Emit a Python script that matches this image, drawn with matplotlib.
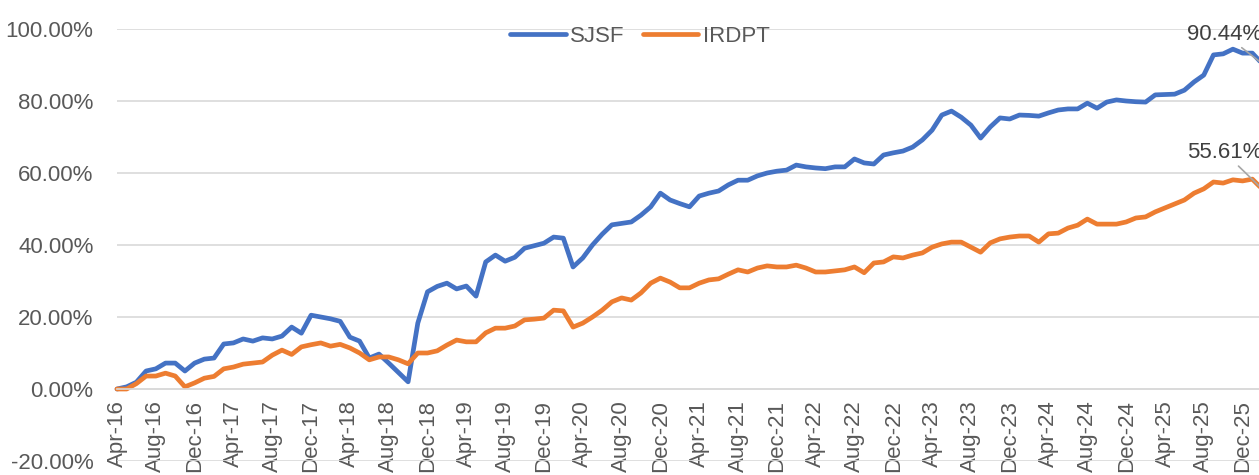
import matplotlib
matplotlib.use("Agg")
import matplotlib.pyplot as plt
from matplotlib.ticker import FuncFormatter

plt.rcParams['font.family'] = ['Liberation Sans', 'DejaVu Sans']

# monthly cumulative return (%), Apr-16 .. Feb-26
months = ["Jan", "Feb", "Mar", "Apr", "May", "Jun",
          "Jul", "Aug", "Sep", "Oct", "Nov", "Dec"]
labels = [f"{months[(3 + i) % 12]}-{16 + (3 + i) // 12}" for i in range(119)]

sjsf = [0, 0.6, 1.9, 5, 5.6, 7.2, 7.2, 5, 7.2, 8.3,
        8.6, 12.5, 12.8, 13.9, 13.3, 14.2, 13.9, 14.7, 17.2, 15.5,
        20.5, 20, 19.5, 18.8, 14.4, 13.3, 8.6, 9.7, 7.2, 4.6,
        2, 18.3, 27, 28.5, 29.4, 27.8, 28.6, 25.8, 35.3, 37.2,
        35.5, 36.6, 39.1, 39.8, 40.5, 42.2, 41.9, 33.9, 36.4, 40,
        43, 45.6, 46, 46.4, 48.3, 50.6, 54.4, 52.5, 51.5, 50.6,
        53.6, 54.4, 55, 56.7, 58, 58, 59.2, 60, 60.5, 60.8,
        62.2, 61.7, 61.4, 61.2, 61.7, 61.7, 63.9, 62.8, 62.5, 65,
        65.6, 66.1, 67.2, 69.2, 71.9, 76.1, 77.2, 75.5, 73.3, 69.7,
        72.8, 75.3, 75, 76.1, 76, 75.8, 76.7, 77.5, 77.8, 77.8,
        79.4, 78, 79.7, 80.3, 80, 79.8, 79.7, 81.7, 81.8, 81.9,
        83, 85.3, 87.2, 92.8, 93.1, 94.4, 93.3, 93.3, 90.44]

irdpt = [0, 0, 1.5, 3.6, 3.6, 4.4, 3.6, 0.6, 1.7, 3,
         3.5, 5.6, 6.1, 6.9, 7.2, 7.5, 9.4, 10.8, 9.6, 11.7,
         12.3, 12.8, 11.9, 12.4, 11.4, 10, 8.1, 8.9, 8.9, 8.1,
         7, 10, 10, 10.6, 12.2, 13.6, 13.1, 13.1, 15.6, 16.9,
         16.9, 17.5, 19.2, 19.4, 19.7, 21.9, 21.7, 17.2, 18.3, 20,
         21.9, 24.2, 25.3, 24.7, 26.7, 29.4, 30.8, 29.7, 28.1, 28.1,
         29.4, 30.3, 30.6, 31.9, 33.1, 32.5, 33.6, 34.2, 33.9, 33.9,
         34.4, 33.6, 32.5, 32.5, 32.8, 33.1, 33.9, 32.3, 35, 35.3,
         36.7, 36.4, 37.2, 37.8, 39.4, 40.3, 40.8, 40.8, 39.4, 38,
         40.6, 41.7, 42.2, 42.5, 42.5, 40.8, 43.1, 43.3, 44.7, 45.5,
         47.2, 45.8, 45.8, 45.8, 46.4, 47.5, 47.8, 49.2, 50.3, 51.4,
         52.5, 54.4, 55.6, 57.5, 57.2, 58.1, 57.8, 58.3, 55.61]

W, H = 1259, 475
fig = plt.figure(figsize=(W / 100, H / 100), dpi=100)
left, right, top, bottom = 117, 1262, 29, 461
ax = fig.add_axes([left / W, (H - bottom) / H, (right - left) / W, (bottom - top) / H])

x = list(range(len(sjsf)))
ax.plot(x, sjsf, color="#4472C4", lw=3.4, solid_joinstyle="round", solid_capstyle="round", label="SJSF", clip_on=False)
ax.plot(x, irdpt, color="#ED7D31", lw=3.4, solid_joinstyle="round", solid_capstyle="round", label="IRDPT", clip_on=False)

ax.set_xlim(0, len(sjsf) - 1)
ax.set_ylim(-20, 100)
ax.set_yticks(range(-20, 101, 20))
ax.yaxis.set_major_formatter(FuncFormatter(lambda v, p: f"{v:.2f}%"))

ax.grid(axis="y", color="#D9D9D9", lw=1.2)
ax.set_axisbelow(True)
for s in ["top", "right", "left"]:
    ax.spines[s].set_visible(False)
ax.spines["bottom"].set_position(("data", 0))
ax.spines["bottom"].set_color("#D9D9D9")
ax.spines["bottom"].set_linewidth(1.2)
ax.tick_params(axis="both", length=0, labelsize=16, labelcolor="#595959")
ax.tick_params(axis="y", pad=17)
ax.tick_params(axis="x", pad=8, labelrotation=90)

ax.set_xticks(x[::4])
ax.set_xticklabels(labels[::4])
for t in ax.get_xticklabels():
    t.set_rotation(90)
    t.set_va("top")
    t.set_ha("center")

# end-value labels
for series, dy in [(sjsf, 29), (irdpt, 36)]:
    ax.annotate(f"{series[-1]:.2f}%", xy=(x[-1], series[-1]), xytext=(-75, dy),
                textcoords="offset pixels", ha="left", va="center",
                fontsize=16, color="#404040", annotation_clip=False,
                arrowprops=dict(arrowstyle="-", color="#A6A6A6", lw=1.2, shrinkA=0, shrinkB=0))

fig.legend(loc="center", bbox_to_anchor=(640 / W, 1 - 36 / H), ncol=2, frameon=False,
           fontsize=16, handlelength=2.5, handletextpad=0.2, columnspacing=0.8,
           labelcolor="#595959")

fig.savefig("out.png", dpi=100)
